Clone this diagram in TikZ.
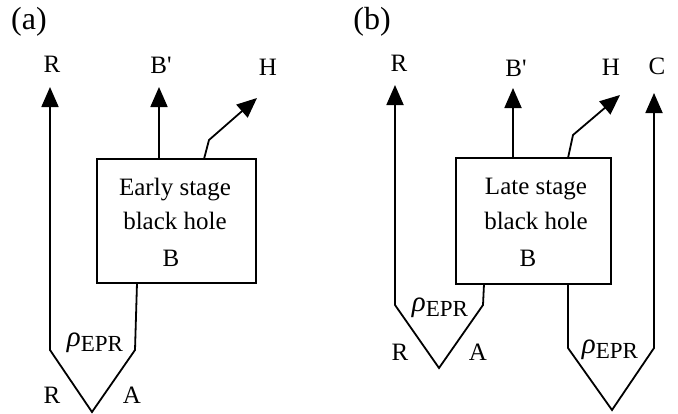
\documentclass[tikz,border=0pt]{standalone}
\usepackage{fontspec}
\setmainfont{Liberation Serif}
\usetikzlibrary{arrows.meta}
\tikzset{
wire/.style={line width=0.9pt},
ray/.style={wire, -{Triangle[length=10pt, width=8.5pt]}},
bh/.style={draw, line width=0.8pt, inner sep=0pt},
lbl/.style={inner sep=0pt, font=\fontsize{12.5}{14}\selectfont},
panel/.style={inner sep=0pt, font=\fontsize{16}{18}\selectfont},
}
\newcommand{\rhoepr}{{\fontsize{14.5}{16}\selectfont\textit{ρ}}\raisebox{-0.45ex}{\fontsize{11.5}{12}\selectfont EPR}}
\newcommand{\bprime}{B\textquotesingle}

\begin{document}
\begin{tikzpicture}[x=0.5pt, y=-0.5pt]
    \useasboundingbox (0,0) rectangle (678,413);

    %panel (a)
    \node[panel] (pa) at (29,22) {(a)};
    \node[bh, minimum width=79.5pt, minimum height=62pt] (boxA) at (176.5,221) {};
    \node[lbl] (aT1) at (175,190) {Early stage};
    \node[lbl] (aT2) at (175,221) {black hole};
    \node[lbl] (aT3) at (171,258) {B};

    \node[lbl] (aR)  at (52,64)   {R};
    \node[lbl] (aBp) at (161,65)  {\bprime};
    \node[lbl] (aH)  at (268,67)  {H};
    \node[lbl] (aR2) at (52,395)  {R};
    \node[lbl] (aA)  at (132,395) {A};
    \node[lbl] (aRho) at (95,343) {\rhoepr};

    \coordinate (aRtip)  at (50,87);
    \coordinate (aRbend) at (50,350);
    \coordinate (aVbot)  at (92,412);
    \coordinate (aAbend) at (135,350);
    \coordinate (aAtop)  at (137,283);
    \coordinate (aBtip)  at (159,87);
    \coordinate (aHfoot) at (204,159);
    \coordinate (aHbend) at (209,140);
    \coordinate (aHtip)  at (257,98);

    \draw[ray] (aAtop)--(aAbend)--(aVbot)--(aRbend)--(aRtip);
    \draw[ray] (boxA.north -| aBtip)--(aBtip);
    \draw[ray] (aHfoot)--(aHbend)--(aHtip);

    %panel (b)
    \node[panel] (pb) at (372,22) {(b)};
    \node[bh, minimum width=77.5pt, minimum height=63pt] (boxB) at (533.5,221) {};
    \node[lbl] (bT1) at (536,189) {Late stage};
    \node[lbl] (bT2) at (536,221) {black hole};
    \node[lbl] (bT3) at (528,258) {B};

    \node[lbl] (bR)  at (399,63)  {R};
    \node[lbl] (bBp) at (516,68)  {\bprime};
    \node[lbl] (bH)  at (611,67)  {H};
    \node[lbl] (bC)  at (657,66)  {C};
    \node[lbl] (bR2) at (400,352) {R};
    \node[lbl] (bA)  at (478,352) {A};
    \node[lbl] (bRho)  at (440,308) {\rhoepr};
    \node[lbl] (bRho2) at (610,350) {\rhoepr};

    \coordinate (bRtip)  at (395,85);
    \coordinate (bRbend) at (395,305);
    \coordinate (bVbot)  at (439,368);
    \coordinate (bAbend) at (483,305);
    \coordinate (bAtop)  at (484,284);
    \coordinate (bBtip)  at (513,88);
    \coordinate (bHfoot) at (568,158);
    \coordinate (bHbend) at (573,135);
    \coordinate (bHtip)  at (620,95);
    \coordinate (bCtip)  at (654,93);
    \coordinate (bCbend) at (654,348);
    \coordinate (bWbot)  at (612,410);
    \coordinate (bDbend) at (568,348);
    \coordinate (bDtop)  at (568,284);

    \draw[ray] (bAtop)--(bAbend)--(bVbot)--(bRbend)--(bRtip);
    \draw[ray] (boxB.north -| bBtip)--(bBtip);
    \draw[ray] (bHfoot)--(bHbend)--(bHtip);
    \draw[ray] (bDtop)--(bDbend)--(bWbot)--(bCbend)--(bCtip);

\end{tikzpicture}
\end{document}
